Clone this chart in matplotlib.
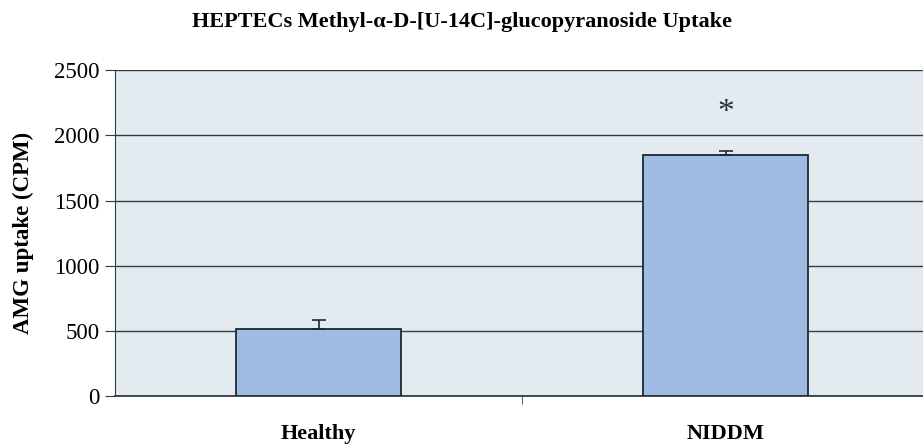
import matplotlib
matplotlib.use("Agg")
import matplotlib.pyplot as plt

plt.rcParams['font.family'] = ['Liberation Serif', 'DejaVu Serif']

groups = ["Healthy", "NIDDM"]
uptake = [515, 1850]
err = [65, 30]

fig = plt.figure(figsize=(9.23, 4.47), dpi=100)
ax = fig.add_axes([0.1246, 0.114, 0.882, 0.729])
ax.set_facecolor('#e3ebf1')

x = range(len(groups))
ax.bar(x, uptake, width=0.405, color='#9fbbe3', edgecolor='#1c2a30', linewidth=1.3, zorder=3)
ax.errorbar(x, uptake, yerr=[[0, 0], err], fmt='none', ecolor='#1c2a30',
            elinewidth=1.2, capsize=5, capthick=1.2, zorder=4)
ax.text(1, 2170, '*', ha='center', va='center', fontsize=24, color='#2a3438')

ax.set_xlim(-0.5, 1.5)
ax.set_ylim(0, 2500)
ax.set_yticks([0, 500, 1000, 1500, 2000, 2500])
ax.yaxis.grid(True, color='#2c3e44', linewidth=1.0, zorder=0)
ax.set_axisbelow(True)

ax.set_xticks(list(x))
ax.set_xticklabels(groups, fontsize=16, fontweight='bold')
ax.set_xticks([0.5], minor=True)
ax.tick_params(axis='x', which='major', length=0, pad=20)
ax.tick_params(axis='x', which='minor', length=6, color='#2c3e44')
ax.tick_params(axis='y', length=7, color='#2c3e44', labelsize=16.5, pad=4)

for s in ['top', 'right']:
    ax.spines[s].set_visible(False)
ax.spines['left'].set_color('#2c3e44')
ax.spines['bottom'].set_color('#2c3e44')
ax.spines['bottom'].set_linewidth(1.3)

ax.set_ylabel('AMG uptake (CPM)', fontsize=16.5, fontweight='bold')
ax.yaxis.set_label_coords(-0.10, 0.5)
fig.text(0.50, 0.95, 'HEPTECs Methyl-\u03b1-D-[U-14C]-glucopyranoside Uptake',
         ha='center', va='center', fontsize=16, fontweight='bold')

fig.savefig('out.png', dpi=100)
